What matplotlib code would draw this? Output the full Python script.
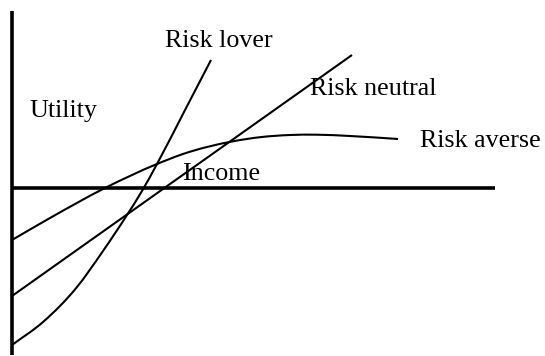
import matplotlib
matplotlib.use("Agg")
import matplotlib.pyplot as plt
from matplotlib.path import Path
from matplotlib.patches import PathPatch

# Data (income on x, utility on y; origin at the axes' crossing)
lover_x = [0, 31, 65, 91, 115, 130, 145, 172, 199]
lover_y = [-157, -134, -99, -63, -27, -3, 24, 76, 128]

neutral_x = [0, 340]
neutral_y = [-108, 133]

averse_x = [0, 38, 93, 145, 171, 220, 248, 278, 305, 338, 386]
averse_y = [-52, -30, 0, 24, 34, 46.5, 50.8, 53, 53.3, 52, 49]

x_axis_end = 483
y_axis_top = 177
y_axis_bottom = -167

labels = {
    "Risk lover": (153, 141),
    "Utility": (17, 71),
    "Income": (170, 8),
    "Risk neutral": (298, 93),
    "Risk averse": (408, 41),
}


def smooth_path(xs, ys):
    """Cubic Hermite curve through the points (slopes from neighbouring chords)."""
    n = len(xs)
    if n < 3:
        return Path(list(zip(xs, ys)), [Path.MOVETO] + [Path.LINETO] * (n - 1))
    d = [(ys[i + 1] - ys[i]) / (xs[i + 1] - xs[i]) for i in range(n - 1)]
    m = [d[0]]
    for i in range(1, n - 1):
        h0 = xs[i] - xs[i - 1]
        h1 = xs[i + 1] - xs[i]
        m.append((d[i - 1] * h1 + d[i] * h0) / (h0 + h1))
    m.append(d[-1])
    verts = [(xs[0], ys[0])]
    codes = [Path.MOVETO]
    for i in range(n - 1):
        h = xs[i + 1] - xs[i]
        verts += [(xs[i] + h / 3, ys[i] + m[i] * h / 3),
                  (xs[i + 1] - h / 3, ys[i + 1] - m[i + 1] * h / 3),
                  (xs[i + 1], ys[i + 1])]
        codes += [Path.CURVE4] * 3
    return Path(verts, codes)


fig = plt.figure(figsize=(5.45, 3.56), dpi=100)
ax = fig.add_axes([0, 0, 1, 1])
ax.set_xlim(-12, 533)
ax.set_ylim(-168, 188)
ax.axis("off")

# axes lines
ax.plot([0, 0], [y_axis_bottom, y_axis_top], color="black", lw=2.6, solid_capstyle="butt")
ax.plot([0, x_axis_end], [0, 0], color="black", lw=2.6, solid_capstyle="butt")

for xs, ys in [(lover_x, lover_y), (neutral_x, neutral_y), (averse_x, averse_y)]:
    ax.add_patch(PathPatch(smooth_path(xs, ys), facecolor="none",
                           edgecolor="black", lw=1.5, joinstyle="round"))

for txt, (tx, ty) in labels.items():
    ax.text(tx, ty, txt, family="Liberation Serif", fontsize=18.7,
            ha="left", va="baseline", color="black")

fig.savefig("out.png", dpi=100)
